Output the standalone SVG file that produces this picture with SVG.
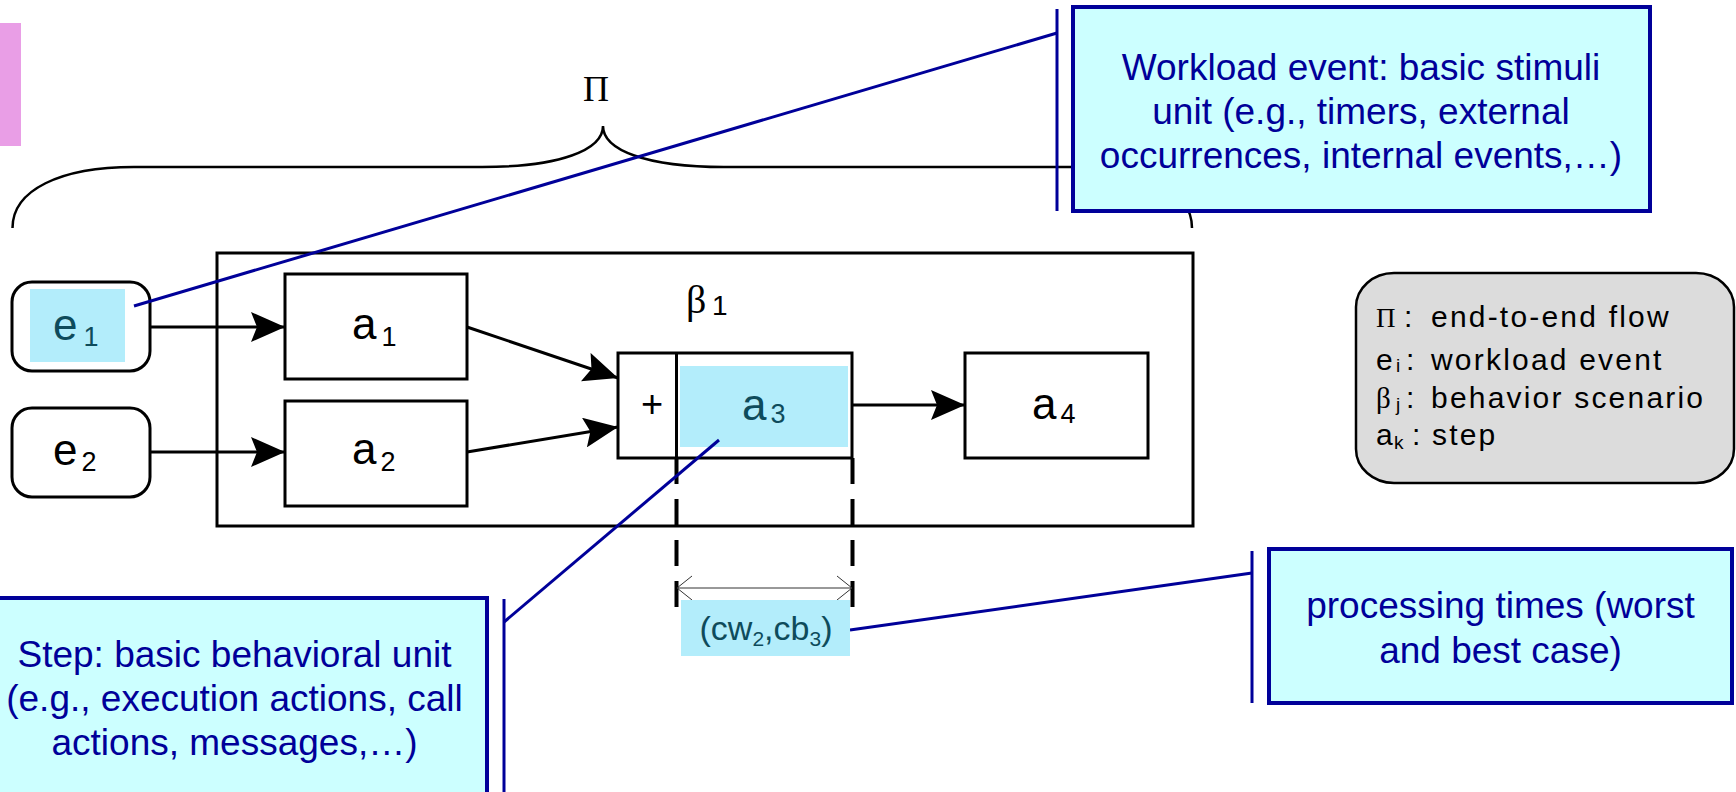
<svg xmlns="http://www.w3.org/2000/svg" width="1736" height="792" viewBox="0 0 1736 792">
<style>
  .box { fill: #ffffff; stroke: #000000; stroke-width: 3; }
  .hl { fill: #b3edfb; }
  .lbl { font-family: "Liberation Sans", Arial, sans-serif; font-size: 44px; fill: #000000; }
  .lbl.teal { fill: #0e4b5b; }
  .sub { font-size: 27px; }
  .callout { fill: #ccffff; stroke: #000099; stroke-width: 4; }
  .ctext { font-family: "Liberation Sans", Arial, sans-serif; font-size: 37px; fill: #000099; text-anchor: middle; }
  .leader { stroke: #000099; stroke-width: 3; fill: none; }
  .conn { stroke: #000000; stroke-width: 3; fill: none; }
  .dash { stroke: #000000; stroke-width: 4; stroke-dasharray: 26 15; fill: none; }
  .serif { font-family: "Liberation Serif", "Times New Roman", serif; }
  .leg { font-family: "Liberation Sans", Arial, sans-serif; font-size: 30px; fill: #000000; }
  .legw { letter-spacing: 2.2px; }
  .legs { font-size: 19px; }
</style>
<defs>
  <marker id="arrow" markerUnits="userSpaceOnUse" viewBox="0 0 34 30" refX="34" refY="15" markerWidth="34" markerHeight="30" orient="auto">
    <path d="M0,0 L34,15 L0,30 L6,15 Z" fill="#000000"/>
  </marker>
  <marker id="open" markerUnits="userSpaceOnUse" viewBox="0 0 15 26" refX="15" refY="13" markerWidth="15" markerHeight="26" orient="auto-start-reverse">
    <path d="M0,1 L15,13 L0,25" fill="none" stroke="#333333" stroke-width="1"/>
  </marker>
</defs>

<rect id="pink-tab" x="0" y="23" width="21" height="123" fill="#e99ee6"/>

<g id="flow-brace">
  <path d="M12.5,228 C12.5,190 60,167 134,167 L482,167 C560,167 603,150 603,126 C603,150 646,167 724,167 L1072,167 C1145,167 1192,190 1192,228" fill="none" stroke="#000000" stroke-width="2.5"/>
  <text x="596" y="101" class="serif" font-size="36" text-anchor="middle" fill="#000000">Π</text>
</g>

<g id="scenario-b1">
  <rect x="217" y="253" width="976" height="273" class="box"/>
  <text x="686" y="313" class="serif" font-size="40" fill="#000000">β</text>
  <text x="712" y="315" font-family="Liberation Sans, Arial, sans-serif" font-size="28" fill="#000000">1</text>
</g>

<g id="node-e1">
  <rect x="12" y="282" width="138" height="89" rx="20" ry="20" class="box"/>
  <rect x="30" y="289" width="95" height="73" class="hl"/>
  <text x="53" y="340" class="lbl teal">e<tspan class="sub" dx="6" dy="6">1</tspan></text>
</g>

<g id="node-e2">
  <rect x="12" y="408" width="138" height="89" rx="20" ry="20" class="box"/>
  <text x="53" y="465" class="lbl">e<tspan class="sub" dx="4" dy="6">2</tspan></text>
</g>

<g id="node-a1">
  <rect x="285" y="274" width="182" height="105" class="box"/>
  <text x="352" y="339" class="lbl">a<tspan class="sub" dx="5" dy="7">1</tspan></text>
</g>

<g id="node-a2">
  <rect x="285" y="401" width="182" height="105" class="box"/>
  <text x="352" y="464" class="lbl">a<tspan class="sub" dx="4" dy="7">2</tspan></text>
</g>

<g id="node-a3">
  <rect x="618" y="353" width="234" height="105" class="box"/>
  <rect x="680" y="366" width="168" height="81" class="hl"/>
  <line x1="676.5" y1="353" x2="676.5" y2="458" stroke="#000000" stroke-width="3"/>
  <text x="652" y="417" font-family="Liberation Sans, Arial, sans-serif" font-size="38" text-anchor="middle" fill="#000000">+</text>
  <text x="742" y="420" class="lbl teal">a<tspan class="sub" dx="4" dy="3">3</tspan></text>
</g>

<g id="node-a4">
  <rect x="965" y="353" width="183" height="105" class="box"/>
  <text x="1032" y="419" class="lbl">a<tspan class="sub" dx="4" dy="4">4</tspan></text>
</g>

<g id="connectors">
  <line x1="150" y1="327" x2="285" y2="327" class="conn" marker-end="url(#arrow)"/>
  <line x1="150" y1="452" x2="285" y2="452" class="conn" marker-end="url(#arrow)"/>
  <line x1="467" y1="327" x2="618" y2="378" class="conn" marker-end="url(#arrow)"/>
  <line x1="467" y1="452" x2="618" y2="427" class="conn" marker-end="url(#arrow)"/>
  <line x1="852" y1="405" x2="965" y2="405" class="conn" marker-end="url(#arrow)"/>
  <line x1="676.5" y1="458" x2="676.5" y2="608" class="dash"/>
  <line x1="852.5" y1="458" x2="852.5" y2="608" class="dash"/>
  <line x1="677" y1="588" x2="852" y2="588" stroke="#333333" stroke-width="1" marker-start="url(#open)" marker-end="url(#open)"/>
  <line x1="134" y1="306" x2="1057" y2="33" class="leader"/>
  <line x1="719" y1="440" x2="504" y2="622" class="leader"/>
  <line x1="850" y1="630" x2="1252" y2="573" class="leader"/>
</g>

<g id="times-label">
  <rect x="681" y="600" width="169" height="56" class="hl"/>
  <text x="766" y="640" font-family="Liberation Sans, Arial, sans-serif" font-size="34" text-anchor="middle" fill="#0e4b5b">(cw<tspan font-size="21" dy="6">2</tspan><tspan dy="-6">,cb</tspan><tspan font-size="21" dy="6">3</tspan><tspan dy="-6">)</tspan></text>
</g>

<g id="callout-workload">
  <line x1="1057" y1="9" x2="1057" y2="211" class="leader"/>
  <rect x="1073" y="7" width="577" height="204" class="callout"/>
  <text x="1361" y="80" class="ctext">Workload event: basic stimuli</text>
  <text x="1361" y="124" class="ctext">unit (e.g., timers, external</text>
  <text x="1361" y="168" class="ctext">occurrences, internal events,…)</text>
</g>

<g id="callout-step">
  <line x1="504" y1="599" x2="504" y2="792" class="leader"/>
  <rect x="-18" y="598" width="505" height="220" class="callout"/>
  <text x="234.5" y="667" class="ctext">Step: basic behavioral unit</text>
  <text x="234.5" y="711" class="ctext">(e.g., execution actions, call</text>
  <text x="234.5" y="755" class="ctext">actions, messages,…)</text>
</g>

<g id="callout-times">
  <line x1="1252" y1="551" x2="1252" y2="703" class="leader"/>
  <rect x="1269" y="549" width="463" height="154" class="callout"/>
  <text x="1500.5" y="618" class="ctext">processing times (worst</text>
  <text x="1500.5" y="663" class="ctext">and best case)</text>
</g>

<g id="legend">
  <rect x="1356" y="273" width="378" height="210" rx="38" ry="34" fill="#dcdcdc" stroke="#000000" stroke-width="2.5"/>
  <text y="327" class="leg"><tspan x="1376" class="serif" font-size="27">Π</tspan><tspan x="1404">:</tspan><tspan x="1431" class="legw">end-to-end flow</tspan></text>
  <text y="370" class="leg"><tspan x="1376">e</tspan><tspan x="1396" class="legs" dy="2">i</tspan><tspan x="1406" dy="-2">:</tspan><tspan x="1431" class="legw">workload event</tspan></text>
  <text y="408" class="leg"><tspan x="1376" class="serif" font-size="29">β</tspan><tspan x="1396" class="legs" dy="3">j</tspan><tspan x="1406" dy="-3">:</tspan><tspan x="1431" class="legw">behavior scenario</tspan></text>
  <text y="445" class="leg"><tspan x="1376">a</tspan><tspan x="1394" class="legs" dy="4">k</tspan><tspan x="1412" dy="-4">:</tspan><tspan x="1432" class="legw">step</tspan></text>
</g>
</svg>
